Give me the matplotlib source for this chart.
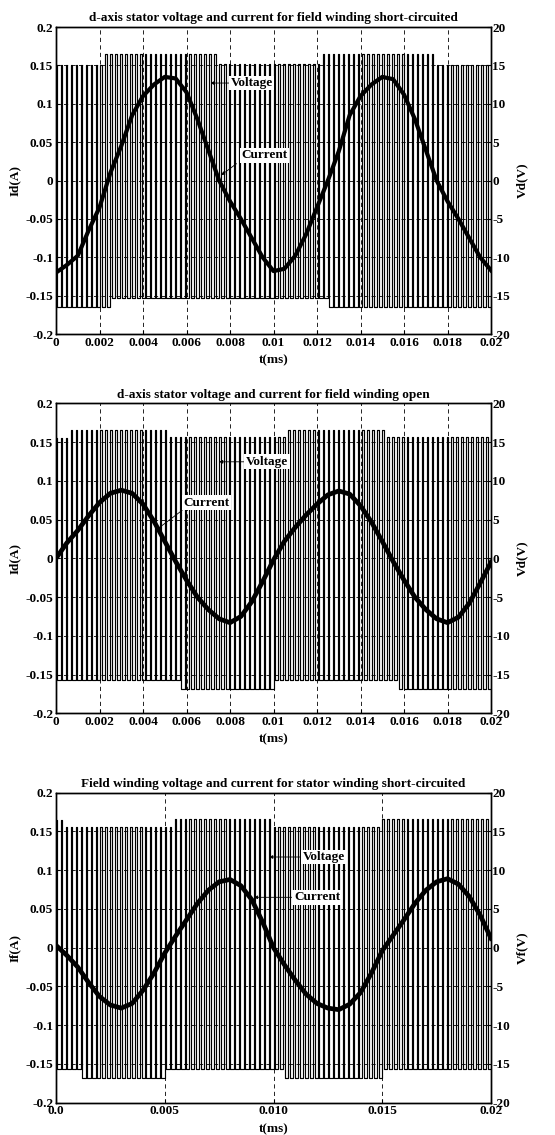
import numpy as np
import matplotlib.pyplot as plt

plt.rcParams['font.family'] = ['Liberation Serif', 'DejaVu Serif']
plt.rcParams['font.weight'] = 'bold'
plt.rcParams['font.size'] = 9.5

T_END = 0.02
N_PULSES = 88
DUTY = 0.3

# current samples, every 0.0005 ms
t_cur = np.arange(41) * 0.0005

id_short = [-0.12, -0.11, -0.098, -0.065, -0.035, 0.01, 0.045, 0.085, 0.11, 0.125,
            0.135, 0.133, 0.115, 0.08, 0.04, 0.0, -0.027, -0.05, -0.075, -0.1,
            -0.118, -0.115, -0.098, -0.07, -0.035, 0.0, 0.038, 0.085, 0.11, 0.125,
            0.135, 0.132, 0.112, 0.08, 0.04, 0.0, -0.027, -0.05, -0.075, -0.1, -0.117]

id_open = [0.0, 0.02, 0.036, 0.055, 0.072, 0.084, 0.088, 0.084, 0.07, 0.048,
           0.022, -0.004, -0.028, -0.05, -0.066, -0.078, -0.083, -0.075, -0.056, -0.03,
           -0.002, 0.022, 0.04, 0.056, 0.07, 0.082, 0.087, 0.083, 0.068, 0.047,
           0.022, -0.004, -0.028, -0.05, -0.066, -0.078, -0.083, -0.076, -0.058, -0.032, -0.005]

if_short = [0.003, -0.01, -0.025, -0.045, -0.063, -0.074, -0.078, -0.072, -0.055, -0.033,
            -0.007, 0.015, 0.036, 0.057, 0.074, 0.085, 0.088, 0.08, 0.062, 0.033,
            0.0, -0.022, -0.042, -0.06, -0.072, -0.078, -0.08, -0.073, -0.058, -0.033,
            -0.004, 0.016, 0.036, 0.057, 0.074, 0.085, 0.089, 0.082, 0.066, 0.042, 0.012]

# PWM voltage envelope: (start time of segment, level)
v1_top_t = [0, 0.0021, 0.0075, 0.0121, 0.0175]
v1_top_v = [15.0, 16.5, 15.2, 16.5, 15.1]
v1_bot_t = [0, 0.0025, 0.0125]
v1_bot_v = [-16.5, -15.3, -16.5]

v2_top_t = [0, 0.0005, 0.0052, 0.0105, 0.0152]
v2_top_v = [15.5, 16.6, 15.6, 16.6, 15.6]
v2_bot_t = [0, 0.0057, 0.0100, 0.0157]
v2_bot_v = [-15.7, -16.8, -15.7, -16.8]

v3_top_t = [0, 0.0003, 0.0053, 0.0100, 0.0150]
v3_top_v = [16.5, 15.6, 16.6, 15.6, 16.6]
v3_bot_t = [0, 0.0010, 0.0050, 0.0105, 0.0150]
v3_bot_v = [-15.7, -16.8, -15.7, -16.8, -15.7]

titles = ['d-axis stator voltage and current for field winding short-circuited',
          'd-axis stator voltage and current for field winding open',
          'Field winding voltage and current for stator winding short-circuited']
ylabels_left = ['Id(A)', 'Id(A)', 'If(A)']
ylabels_right = ['Vd(V)', 'Vd(V)', 'Vf(V)']

yticks_left = [0.2, 0.15, 0.1, 0.05, 0, -0.05, -0.1, -0.15, -0.2]
yticklabels_left = ['0.2', '0.15', '0.1', '0.05', '0', '-0.05', '-0.1', '-0.15', '-0.2']
yticks_right = [20, 15, 10, 5, 0, -5, -10, -15, -20]
xticks_fine = [0, 0.002, 0.004, 0.006, 0.008, 0.01, 0.012, 0.014, 0.016, 0.018, 0.02]
xticklabels_fine = ['0', '0.002', '0.004', '0.006', '0.008', '0.01', '0.012',
                    '0.014', '0.016', '0.018', '0.02']
xticks_coarse = [0, 0.005, 0.010, 0.015, 0.02]
xticklabels_coarse = ['0.0', '0.005', '0.010', '0.015', '0.02']

# annotation anchors: (text x, text y, arrow tip x, arrow tip y) in current units
volt_notes = [(0.0090, 0.127, 0.0071, 0.127),
              (0.0097, 0.1246, 0.0075, 0.1246),
              (0.0123, 0.117, 0.0098, 0.117)]
curr_notes = [(0.0096, 0.033, 0.0076, 0.007),
              (0.0069, 0.0717, 0.0046, 0.0365),
              (0.0120, 0.065, 0.0091, 0.065)]
curr_arrow_from = [(0.0083, 0.022), (0.0058, 0.062), (0.0109, 0.065)]


def pwm_wave(top_t, top_v, bot_t, bot_v):
    period = T_END / N_PULSES
    starts = np.arange(N_PULSES) * period
    hi = np.array(top_v)[np.searchsorted(top_t, starts, side='right') - 1]
    lo = np.array(bot_v)[np.searchsorted(bot_t, starts + DUTY * period, side='right') - 1]
    t = np.column_stack([starts, starts + DUTY * period]).ravel()
    v = np.column_stack([hi, lo]).ravel()
    return np.append(t, T_END), np.append(v, v[-1])


fig = plt.figure(figsize=(5.55, 11.35), dpi=100)
positions = [[0.1009, 0.7057, 0.7838, 0.2705],
             [0.1009, 0.3715, 0.7838, 0.2731],
             [0.1009, 0.0285, 0.7838, 0.2731]]
currents = [id_short, id_open, if_short]
volts = [(v1_top_t, v1_top_v, v1_bot_t, v1_bot_v),
         (v2_top_t, v2_top_v, v2_bot_t, v2_bot_v),
         (v3_top_t, v3_top_v, v3_bot_t, v3_bot_v)]
cur_lw = [3.0, 3.4, 3.4]

for i in range(3):
    ax = fig.add_axes(positions[i])
    ax2 = ax.twinx()
    ax.set_zorder(ax2.get_zorder() + 1)
    ax.patch.set_visible(False)

    tv, vv = pwm_wave(*volts[i])
    ax2.plot(tv, vv, drawstyle='steps-post', color='black', lw=0.85)
    ax.plot(t_cur, currents[i], color='black', lw=cur_lw[i], solid_joinstyle='round')

    ax.set_xlim(0, T_END)
    ax.set_ylim(-0.2, 0.2)
    ax2.set_ylim(-20, 20)
    ax.set_yticks(yticks_left)
    ax.set_yticklabels(yticklabels_left)
    ax2.set_yticks(yticks_right)
    ax2.set_yticklabels([str(v) for v in yticks_right])
    if i < 2:
        ax.set_xticks(xticks_fine)
        ax.set_xticklabels(xticklabels_fine)
    else:
        ax.set_xticks(xticks_coarse)
        ax.set_xticklabels(xticklabels_coarse)

    ax.grid(True, color='black', linestyle=(0, (5, 4)), linewidth=0.6)
    ax.tick_params(direction='in', length=3, pad=2, labelsize=9.5)
    ax2.tick_params(direction='in', length=3, pad=1, labelsize=9.5)
    for sp in list(ax.spines.values()) + list(ax2.spines.values()):
        sp.set_linewidth(1.0)

    ax.set_title(titles[i], fontsize=9.5, fontweight='bold', pad=4)
    ax.set_xlabel('t(ms)', fontsize=9.5, fontweight='bold', labelpad=4)
    ax.set_ylabel(ylabels_left[i], fontsize=9.5, fontweight='bold', labelpad=3)
    ax2.set_ylabel(ylabels_right[i], fontsize=9.5, fontweight='bold', labelpad=4)

    tx, ty, ax_, ay = volt_notes[i]
    ax.annotate('', xy=(ax_, ay), xytext=(tx - 0.001, ty),
                arrowprops=dict(arrowstyle='-|>', color='black', lw=0.6,
                                mutation_scale=5, shrinkA=0, shrinkB=0))
    ax.text(tx, ty, 'Voltage', ha='center', va='center', fontsize=9.5, fontweight='bold',
            bbox=dict(facecolor='white', edgecolor='none', pad=1))

    tx, ty, ax_, ay = curr_notes[i]
    fx, fy = curr_arrow_from[i]
    ax.annotate('', xy=(ax_, ay), xytext=(fx, fy),
                arrowprops=dict(arrowstyle='-|>', color='black', lw=0.6,
                                mutation_scale=5, shrinkA=0, shrinkB=0))
    ax.text(tx, ty, 'Current', ha='center', va='center', fontsize=9.5, fontweight='bold',
            bbox=dict(facecolor='white', edgecolor='none', pad=1))

fig.savefig('out.png', dpi=100)
